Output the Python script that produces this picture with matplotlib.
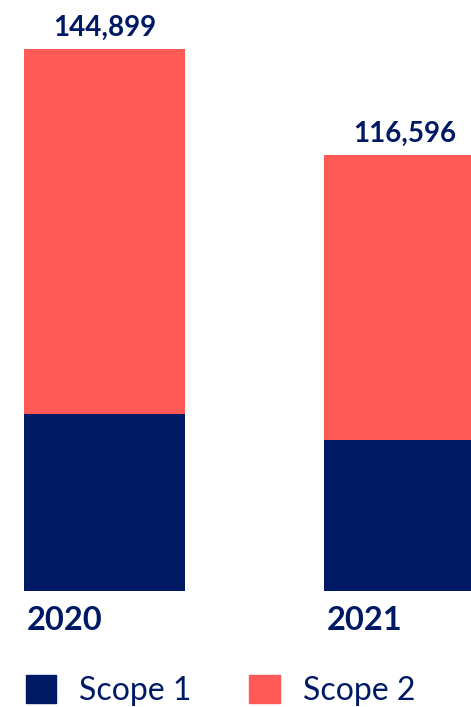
import matplotlib.pyplot as plt
from matplotlib.patches import Patch
from matplotlib.transforms import blended_transform_factory

# data
years = ['2020', '2021']
scope1 = [47320, 40370]
scope2 = [97579, 76226]
totals = ['144,899', '116,596']

navy = '#001965'
coral = '#FF5A55'
plt.rcParams['font.family'] = ['Lato', 'DejaVu Sans']

fig = plt.figure(figsize=(4.71, 7.07), dpi=100)
ax = fig.add_axes([0, 116 / 707, 1, 591 / 707])

x = [0, 1]
w = 0.537
ax.bar(x, scope1, width=w, color=navy)
ax.bar(x, scope2, width=w, bottom=scope1, color=coral)

ax.set_xlim(-0.348, 1.222)
ax.set_ylim(0, 158000)
ax.axis('off')

# totals above the bars
for xi, s1, s2, lab in zip(x, scope1, scope2, totals):
    ax.annotate(lab, (xi, s1 + s2), xytext=(0, 6), textcoords='offset points',
                ha='center', va='bottom', fontsize=20, fontweight='bold', color=navy)

# year labels under the bars, left aligned
trans = blended_transform_factory(ax.transData, fig.transFigure)
for xi, yr in zip(x, years):
    ax.text(xi - w / 2 + 0.01, 1 - 630 / 707, yr, transform=trans,
            ha='left', va='baseline', fontsize=23.5, fontweight='bold', color=navy)

handles = [Patch(color=navy, label='Scope 1'), Patch(color=coral, label='Scope 2')]
fig.legend(handles=handles, ncol=2, loc='upper left', bbox_to_anchor=(26 / 471, 1 - 675 / 707),
           frameon=False, handlelength=0.95, handleheight=0.95,
           handletextpad=0.72, columnspacing=1.8, borderaxespad=0, borderpad=0,
           prop={'weight': 'normal', 'size': 23}, labelcolor=navy)

fig.savefig('out.png', dpi=100)
